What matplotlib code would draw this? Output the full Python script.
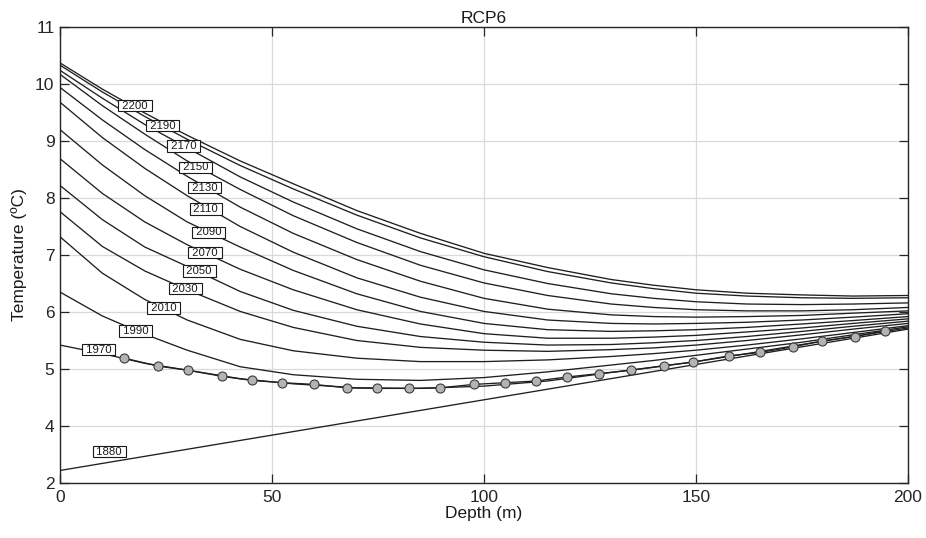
import matplotlib
matplotlib.use("Agg")
import matplotlib.pyplot as plt

plt.rcParams['font.family'] = ['Liberation Sans', 'DejaVu Sans']

# ---------------- data ----------------
depth = [0, 10, 20, 30, 42.5, 55, 70, 85, 100, 115, 130, 140, 150, 162, 175, 187, 200]

t2200 = [10.37, 9.91, 9.49, 9.10, 8.65, 8.25, 7.78, 7.38, 7.03, 6.78, 6.57, 6.47, 6.39, 6.33, 6.30, 6.28, 6.29]
t2190 = [10.33, 9.86, 9.43, 9.03, 8.57, 8.16, 7.70, 7.30, 6.97, 6.71, 6.51, 6.41, 6.33, 6.28, 6.25, 6.24, 6.25]
t2170 = [10.24, 9.75, 9.29, 8.88, 8.37, 7.93, 7.46, 7.06, 6.74, 6.50, 6.32, 6.24, 6.18, 6.14, 6.13, 6.14, 6.16]
t2150 = [10.17, 9.62, 9.12, 8.65, 8.15, 7.69, 7.22, 6.82, 6.51, 6.29, 6.14, 6.08, 6.04, 6.02, 6.02, 6.04, 6.08]
t2130 = [9.94, 9.37, 8.85, 8.38, 7.84, 7.38, 6.92, 6.54, 6.24, 6.05, 5.95, 5.92, 5.91, 5.92, 5.94, 5.98, 6.02]
t2110 = [9.68, 9.06, 8.52, 8.04, 7.50, 7.05, 6.60, 6.26, 6.01, 5.86, 5.80, 5.79, 5.80, 5.82, 5.86, 5.91, 5.97]
t2090 = [9.20, 8.58, 8.04, 7.58, 7.14, 6.73, 6.32, 6.01, 5.80, 5.69, 5.66, 5.67, 5.69, 5.73, 5.79, 5.85, 5.92]
t2070 = [8.69, 8.08, 7.58, 7.18, 6.75, 6.39, 6.04, 5.79, 5.62, 5.54, 5.54, 5.56, 5.59, 5.65, 5.72, 5.80, 5.88]
t2050 = [8.22, 7.62, 7.14, 6.80, 6.36, 6.03, 5.75, 5.57, 5.47, 5.42, 5.43, 5.46, 5.50, 5.57, 5.66, 5.75, 5.84]
t2030 = [7.76, 7.15, 6.72, 6.39, 6.01, 5.73, 5.50, 5.38, 5.33, 5.31, 5.34, 5.37, 5.42, 5.50, 5.60, 5.70, 5.80]
t2010 = [7.32, 6.68, 6.22, 5.86, 5.52, 5.32, 5.19, 5.13, 5.13, 5.16, 5.22, 5.27, 5.33, 5.42, 5.53, 5.64, 5.76]
t1990 = [6.35, 5.93, 5.61, 5.33, 5.04, 4.90, 4.82, 4.80, 4.85, 4.95, 5.07, 5.15, 5.24, 5.35, 5.47, 5.60, 5.74]
t1970 = [5.42, 5.27, 5.10, 4.98, 4.83, 4.74, 4.67, 4.66, 4.70, 4.79, 4.94, 5.03, 5.13, 5.27, 5.43, 5.57, 5.72]

depth_1880 = [0, 200]
t1880 = [3.22, 5.70]

obs_depth = [15.2, 23.2, 30.1, 38.3, 45.2, 52.4, 59.9, 67.6, 74.7, 82.4, 89.6, 97.6,
             105.0, 112.3, 119.6, 127.2, 134.7, 142.5, 149.2, 157.7, 165.0, 172.9,
             179.6, 187.4, 194.6]
obs_temp = [5.19, 5.05, 4.98, 4.87, 4.80, 4.76, 4.73, 4.67, 4.66, 4.66, 4.67, 4.73,
            4.76, 4.79, 4.86, 4.92, 4.98, 5.06, 5.12, 5.23, 5.29, 5.39,
            5.49, 5.57, 5.67]

yticks = [3, 4, 5, 6, 7, 8, 9, 10, 11]
ytick_labels = ['2', '4', '5', '6', '7', '8', '9', '10', '11']
xticks = [0, 50, 100, 150, 200]

# label placement (depth, temperature) for the inline year boxes
label_years = ['2200', '2190', '2170', '2150', '2130', '2110', '2090',
               '2070', '2050', '2030', '2010', '1990', '1970', '1880']
label_x = [17.7, 24.2, 29.2, 32.0, 34.1, 34.4, 35.0, 34.2, 32.8, 29.5, 24.5, 17.9, 9.1, 11.6]
label_y = [9.62, 9.27, 8.91, 8.54, 8.18, 7.81, 7.40, 7.04, 6.72, 6.41, 6.07, 5.67, 5.34, 3.55]

curves = [t2200, t2190, t2170, t2150, t2130, t2110, t2090,
          t2070, t2050, t2030, t2010, t1990, t1970]

# ---------------- plot ----------------
fig = plt.figure(figsize=(9.26, 5.38), dpi=100)
ax = fig.add_axes([0.0648, 0.1022, 0.9158, 0.8476])

line_color = '#1f1f1f'
for c in curves:
    ax.plot(depth, c, color=line_color, lw=0.95, zorder=3)
ax.plot(depth_1880, t1880, color=line_color, lw=0.95, zorder=3)
ax.plot(obs_depth, obs_temp, color=line_color, lw=0.95, marker='o', ms=6.5,
        mfc='#b3b3b3', mec='#3a3a3a', mew=0.8, zorder=4)

for s, x, y in zip(label_years, label_x, label_y):
    ax.text(x, y, ' ' + s + ' ', ha='center', va='center', fontsize=8.2,
            color='#1a1a1a', zorder=6,
            bbox=dict(boxstyle='square,pad=0.06', fc='white', ec='#1a1a1a', lw=0.8))

ax.set_xlim(0, 200)
ax.set_ylim(3, 11)
ax.set_xticks(xticks)
ax.set_yticks(yticks)
ax.set_yticklabels(ytick_labels)
ax.grid(True, color='#d9d9d9', lw=0.9, zorder=0)
ax.set_axisbelow(True)
ax.tick_params(direction='in', length=6.5, width=0.9, top=True, right=True,
               labelsize=12.5, colors='#262626', pad=5)
ax.tick_params(axis='y', pad=4)
for sp in ax.spines.values():
    sp.set_color('#262626')
    sp.set_linewidth(1.0)

ax.set_xlabel('Depth (m)', fontsize=12.5, color='#1a1a1a', labelpad=1)
ax.set_ylabel('Temperature (ºC)', fontsize=12.5, color='#1a1a1a', labelpad=6)
ax.set_title('RCP6', fontsize=12.5, color='#1a1a1a', pad=3)

fig.savefig('out.png', dpi=100)
